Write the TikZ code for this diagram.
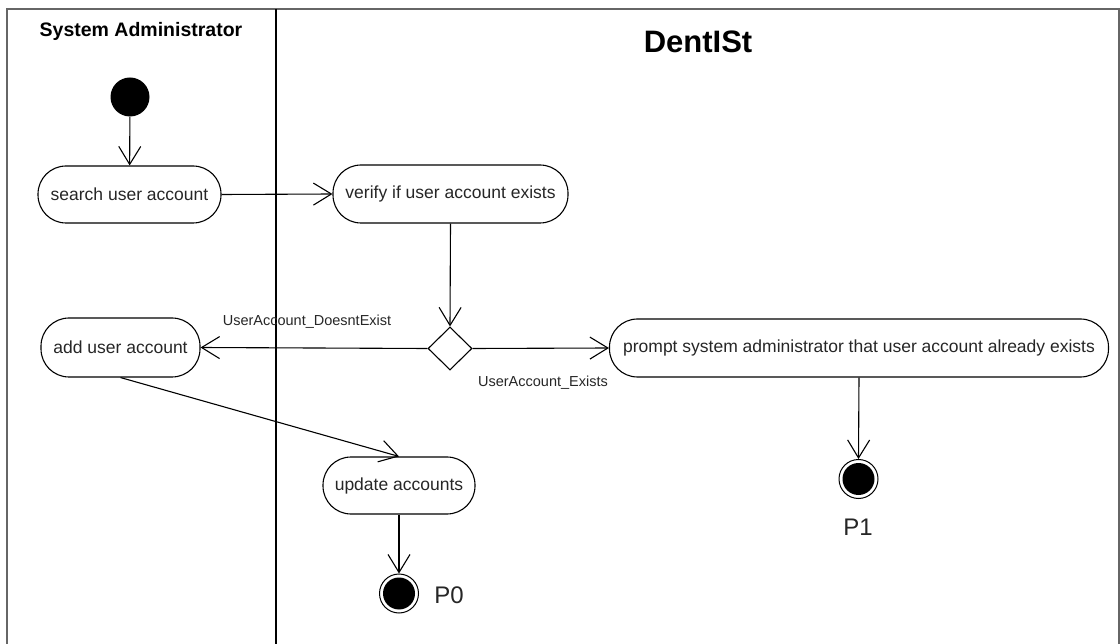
\documentclass[tikz,border=0pt]{standalone}
\usepackage{fontspec}
\setmainfont{Liberation Sans}
\usetikzlibrary{arrows.meta,shapes.geometric}

\tikzset{
  action/.style={draw, line width=1.1pt, rounded corners=28pt, inner sep=0pt,
    align=center, text=black!85, font=\fontsize{17.5}{20}\selectfont},
  startnode/.style={circle, fill=black, inner sep=0pt, minimum size=39pt},
  endnode/.style={circle, draw, line width=1pt, inner sep=0pt, minimum size=39pt,
    path picture={\fill[black] (path picture bounding box.center) circle (16pt);}},
  decision/.style={diamond, draw, line width=1.1pt, inner sep=0pt,
    minimum width=44pt, minimum height=43pt},
  flow/.style={line width=1.1pt, -{Straight Barb[length=18pt,width=22pt,line width=1.1pt]}},
  guard/.style={text=black!85, font=\fontsize{14.5}{16}\selectfont, inner sep=0pt},
  lanetitle/.style={font=\bfseries\fontsize{19.5}{22}\selectfont, inner sep=0pt},
  endlabel/.style={font=\fontsize{24}{26}\selectfont, text=black!85, inner sep=0pt}
}

\begin{document}
\begin{tikzpicture}[x=1pt,y=-1pt]
  \useasboundingbox (0,0) rectangle (1120,644);

  % swimlanes
  \draw[black!60, line width=2.2pt] (7,660) -- (7,9) -- (1119,9) -- (1119,660);
  \draw[black, line width=1.3pt] (276,9) -- (276,660);
  \node[lanetitle] (laneA) at (141,31) {System Administrator};
  \node[lanetitle, font=\bfseries\fontsize{31}{34}\selectfont] (laneB) at (698,42) {DentISt};

  % activities
  \node[startnode] (init) at (130,97) {};
  \node[action, minimum width=183pt, minimum height=57pt] (search) at (129.5,194.5) {search user account};
  \node[action, minimum width=235pt, minimum height=58pt] (verify) at (450.5,194) {verify if user account exists};
  \node[decision] (dec) at (450,348.5) {};
  \node[action, minimum width=159pt, minimum height=59pt] (add) at (120.5,347.5) {add user account};
  \node[action, minimum width=499pt, minimum height=58pt] (prompt) at (859,348) {prompt system administrator that user account already exists};
  \node[action, minimum width=152pt, minimum height=57pt] (update) at (399,485.5) {update accounts};
  \node[endnode] (end0) at (399,593.5) {};
  \node[endnode] (end1) at (858.5,479) {};

  % guards and end labels
  \node[guard] (gNo) at (307,322) {UserAccount\_DoesntExist};
  \node[guard] (gYes) at (543,383) {UserAccount\_Exists};
  \node[endlabel] (p0) at (449,595) {P0};
  \node[endlabel] (p1) at (858,527) {P1};

  % control flow
  \draw[flow] (init) -- (search);
  \draw[flow] (search.east) -- (verify.west);
  \draw[flow] (verify.south) -- (dec.north);
  \draw[flow] (dec.west) -- (add.east);
  \draw[flow] (dec.east) -- (prompt.west);
  \draw[flow] (add.south) -- (update.north);
  \draw[flow] (update.south) -- (end0.north);
  \draw[flow] (prompt.south) -- (end1.north);
\end{tikzpicture}
\end{document}
